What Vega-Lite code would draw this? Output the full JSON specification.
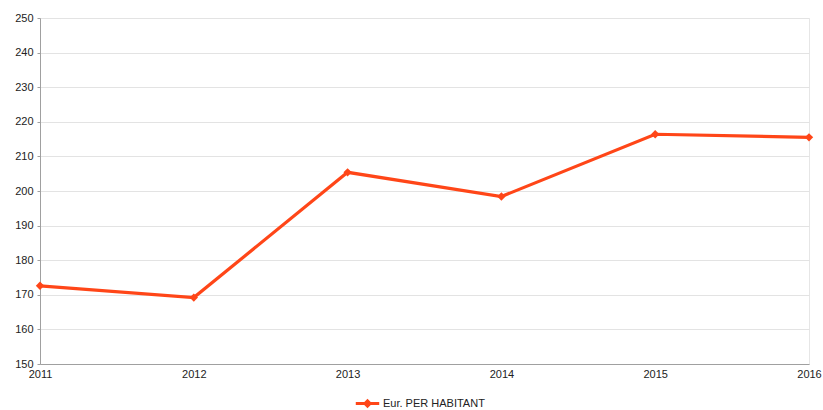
{
  "$schema": "https://vega.github.io/schema/vega-lite/v6.json",
  "width": 769,
  "height": 346,
  "autosize": {"type": "none"},
  "padding": {"left": 40, "top": 18, "right": 14, "bottom": 46},
  "background": "white",
  "config": {
    "font": "Liberation Sans",
    "view": {"stroke": "#e6e6e6", "strokeWidth": 1}
  },
  "data": {
    "values": [
      {"year": "2011", "value": 172.6, "series": "Eur. PER HABITANT"},
      {"year": "2012", "value": 169.2, "series": "Eur. PER HABITANT"},
      {"year": "2013", "value": 205.4, "series": "Eur. PER HABITANT"},
      {"year": "2014", "value": 198.4, "series": "Eur. PER HABITANT"},
      {"year": "2015", "value": 216.4, "series": "Eur. PER HABITANT"},
      {"year": "2016", "value": 215.5, "series": "Eur. PER HABITANT"}
    ]
  },
  "encoding": {
    "x": {
      "field": "year",
      "type": "ordinal",
      "scale": {"type": "point", "padding": 0},
      "axis": {
        "title": null,
        "labelAngle": 0,
        "labelFontSize": 11,
        "labelColor": "#222222",
        "labelPadding": 4,
        "ticks": false,
        "grid": false,
        "domainColor": "#a0a0a0",
        "labelFont": "Liberation Sans"
      }
    },
    "y": {
      "field": "value",
      "type": "quantitative",
      "scale": {"domain": [150, 250], "nice": false, "zero": false},
      "axis": {
        "title": null,
        "values": [150, 160, 170, 180, 190, 200, 210, 220, 230, 240, 250],
        "labelFontSize": 11,
        "labelColor": "#222222",
        "labelPadding": 4,
        "tickSize": 3,
        "tickColor": "#a0a0a0",
        "gridColor": "#e3e3e3",
        "domainColor": "#a0a0a0",
        "labelFont": "Liberation Sans"
      }
    },
    "color": {
      "field": "series",
      "type": "nominal",
      "scale": {"range": ["#ff4618"]},
      "legend": {
        "title": null,
        "orient": "none",
        "legendX": 314,
        "legendY": 372,
        "symbolType": "M-1,0H1M-0.22,0L0,-0.22L0.22,0L0,0.22Z",
        "symbolSize": 550,
        "symbolStrokeWidth": 3,
        "symbolFillColor": "#ff4618",
        "symbolStrokeColor": "#ff4618",
        "labelFontSize": 11,
        "labelColor": "#222222",
        "labelOffset": 2,
        "labelFont": "Liberation Sans"
      }
    }
  },
  "layer": [
    {"mark": {"type": "line", "strokeWidth": 3.2}},
    {"mark": {"type": "point", "shape": "diamond", "filled": true, "size": 70, "opacity": 1}}
  ]
}
